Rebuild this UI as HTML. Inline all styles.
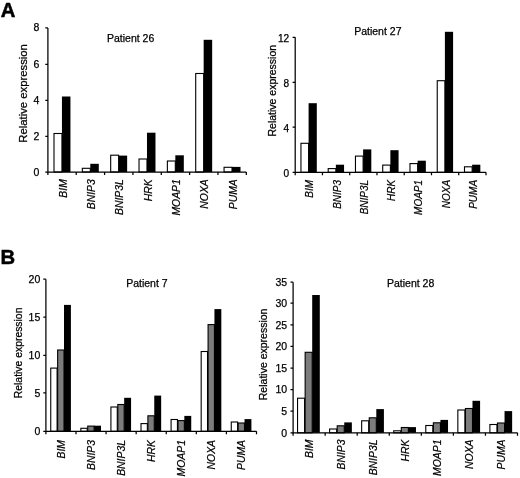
<!DOCTYPE html>
<html><head><meta charset="utf-8"><title>Figure</title>
<style>
html,body{margin:0;padding:0;background:#fff;}
svg{display:block;font-family:"Liberation Sans", Arial, sans-serif;}
.t{fill:#000;stroke:#000;stroke-width:0.25px;}
.tk{fill:#000;text-anchor:end;stroke:#000;stroke-width:0.25px;}
.yl{fill:#000;text-anchor:middle;stroke:#000;stroke-width:0.25px;}
.xl{fill:#000;font-style:italic;text-anchor:end;stroke:#000;stroke-width:0.2px;}
.pl{font-size:19.3px;font-weight:bold;fill:#000;stroke:#000;stroke-width:0.5px;}
</style></head><body>
<svg width="520" height="478" viewBox="0 0 520 478">
<rect x="0" y="0" width="520" height="478" fill="#fff"/>
<text class="pl" transform="translate(0.7,16.6) scale(1.05,1)">A</text>
<text class="pl" transform="translate(0.4,263.6) scale(1.05,1)">B</text>

<g>
<text class="t" font-size="10.5" x="107" y="42.4">Patient 26</text>
<text class="yl" font-size="11.3" transform="translate(27.4,93.4) rotate(-90)">Relative expression</text>
<rect x="54.00" y="133.50" width="7.95" height="38.50" fill="#fff" stroke="#000" stroke-width="1.1"/>
<rect x="61.95" y="96.50" width="8.50" height="75.50" fill="#000"/>
<rect x="82.34" y="168.30" width="7.95" height="3.70" fill="#fff" stroke="#000" stroke-width="1.1"/>
<rect x="90.29" y="163.80" width="8.50" height="8.20" fill="#000"/>
<rect x="110.69" y="155.20" width="7.95" height="16.80" fill="#fff" stroke="#000" stroke-width="1.1"/>
<rect x="118.64" y="155.60" width="8.50" height="16.40" fill="#000"/>
<rect x="139.03" y="159.00" width="7.95" height="13.00" fill="#fff" stroke="#000" stroke-width="1.1"/>
<rect x="146.98" y="132.70" width="8.50" height="39.30" fill="#000"/>
<rect x="167.37" y="161.00" width="7.95" height="11.00" fill="#fff" stroke="#000" stroke-width="1.1"/>
<rect x="175.32" y="155.30" width="8.50" height="16.70" fill="#000"/>
<rect x="195.71" y="73.50" width="7.95" height="98.50" fill="#fff" stroke="#000" stroke-width="1.1"/>
<rect x="203.66" y="39.80" width="8.50" height="132.20" fill="#000"/>
<rect x="224.06" y="167.30" width="7.95" height="4.70" fill="#fff" stroke="#000" stroke-width="1.1"/>
<rect x="232.01" y="166.90" width="8.50" height="5.10" fill="#000"/>
<path d="M47.90 27.90V172.00H246.30" fill="none" stroke="#000" stroke-width="1.25"/>
<text class="tk" font-size="10.5" x="39.30" y="175.50">0</text>
<text class="tk" font-size="10.5" x="39.30" y="139.80">2</text>
<text class="tk" font-size="10.5" x="39.30" y="103.80">4</text>
<text class="tk" font-size="10.5" x="39.30" y="67.80">6</text>
<text class="tk" font-size="10.5" x="39.30" y="31.40">8</text>
<path d="M45.30 172.00H47.90M45.30 136.30H47.90M45.30 100.30H47.90M45.30 64.30H47.90M45.30 27.90H47.90M76.24 172.00V175.00M104.59 172.00V175.00M132.93 172.00V175.00M161.27 172.00V175.00M189.61 172.00V175.00M217.96 172.00V175.00M246.30 172.00V175.00M47.90 172.00V175.00" fill="none" stroke="#000" stroke-width="1.25"/>
<text class="xl" font-size="10.4" transform="translate(66.67,179.20) rotate(-90)">BIM</text>
<text class="xl" font-size="10.4" transform="translate(95.01,179.20) rotate(-90)">BNIP3</text>
<text class="xl" font-size="10.4" transform="translate(123.36,179.20) rotate(-90)">BNIP3L</text>
<text class="xl" font-size="10.4" transform="translate(151.70,179.20) rotate(-90)">HRK</text>
<text class="xl" font-size="10.4" transform="translate(180.04,179.20) rotate(-90)">MOAP1</text>
<text class="xl" font-size="10.4" transform="translate(208.39,179.20) rotate(-90)">NOXA</text>
<text class="xl" font-size="10.4" transform="translate(236.73,179.20) rotate(-90)">PUMA</text>
</g>
<g>
<text class="t" font-size="10.5" x="354.2" y="35.2">Patient 27</text>
<text class="yl" font-size="10.5" transform="translate(275.7,90.7) rotate(-90)">Relative expression</text>
<rect x="300.95" y="143.30" width="7.65" height="29.00" fill="#fff" stroke="#000" stroke-width="1.1"/>
<rect x="308.60" y="103.20" width="8.20" height="69.10" fill="#000"/>
<rect x="328.21" y="168.60" width="7.65" height="3.70" fill="#fff" stroke="#000" stroke-width="1.1"/>
<rect x="335.86" y="164.70" width="8.20" height="7.60" fill="#000"/>
<rect x="355.46" y="156.10" width="7.65" height="16.20" fill="#fff" stroke="#000" stroke-width="1.1"/>
<rect x="363.11" y="149.40" width="8.20" height="22.90" fill="#000"/>
<rect x="382.72" y="165.10" width="7.65" height="7.20" fill="#fff" stroke="#000" stroke-width="1.1"/>
<rect x="390.37" y="150.20" width="8.20" height="22.10" fill="#000"/>
<rect x="409.98" y="163.60" width="7.65" height="8.70" fill="#fff" stroke="#000" stroke-width="1.1"/>
<rect x="417.63" y="160.70" width="8.20" height="11.60" fill="#000"/>
<rect x="437.24" y="80.70" width="7.65" height="91.60" fill="#fff" stroke="#000" stroke-width="1.1"/>
<rect x="444.89" y="31.80" width="8.20" height="140.50" fill="#000"/>
<rect x="464.49" y="166.80" width="7.65" height="5.50" fill="#fff" stroke="#000" stroke-width="1.1"/>
<rect x="472.14" y="164.70" width="8.20" height="7.60" fill="#000"/>
<path d="M295.20 37.30V172.30H486.00" fill="none" stroke="#000" stroke-width="1.25"/>
<text class="tk" font-size="10.1" x="289.20" y="176.85">0</text>
<text class="tk" font-size="10.1" x="289.20" y="131.65">4</text>
<text class="tk" font-size="10.1" x="289.20" y="86.85">8</text>
<text class="tk" font-size="10.1" x="289.20" y="41.85">12</text>
<path d="M292.60 172.30H295.20M292.60 127.10H295.20M292.60 82.30H295.20M292.60 37.30H295.20M322.46 172.30V175.30M349.71 172.30V175.30M376.97 172.30V175.30M404.23 172.30V175.30M431.49 172.30V175.30M458.74 172.30V175.30M486.00 172.30V175.30M295.20 172.30V175.30" fill="none" stroke="#000" stroke-width="1.25"/>
<text class="xl" font-size="10.0" transform="translate(313.43,179.90) rotate(-90)">BIM</text>
<text class="xl" font-size="10.0" transform="translate(340.69,179.90) rotate(-90)">BNIP3</text>
<text class="xl" font-size="10.0" transform="translate(367.94,179.90) rotate(-90)">BNIP3L</text>
<text class="xl" font-size="10.0" transform="translate(395.20,179.90) rotate(-90)">HRK</text>
<text class="xl" font-size="10.0" transform="translate(422.46,179.90) rotate(-90)">MOAP1</text>
<text class="xl" font-size="10.0" transform="translate(449.71,179.90) rotate(-90)">NOXA</text>
<text class="xl" font-size="10.0" transform="translate(476.97,179.90) rotate(-90)">PUMA</text>
</g>
<g>
<text class="t" font-size="10.5" x="126.2" y="287.4">Patient 7</text>
<text class="yl" font-size="10.4" transform="translate(22,352.9) rotate(-90)">Relative expression</text>
<rect x="50.75" y="368.10" width="6.35" height="63.20" fill="#fff" stroke="#000" stroke-width="1.1"/>
<rect x="57.65" y="350.00" width="6.35" height="81.30" fill="#7c7c7c" stroke="#000" stroke-width="1.1"/>
<rect x="64.00" y="304.90" width="6.90" height="126.40" fill="#000"/>
<rect x="80.84" y="428.30" width="6.35" height="3.00" fill="#fff" stroke="#000" stroke-width="1.1"/>
<rect x="87.74" y="426.10" width="6.35" height="5.20" fill="#7c7c7c" stroke="#000" stroke-width="1.1"/>
<rect x="94.09" y="425.70" width="6.90" height="5.60" fill="#000"/>
<rect x="110.92" y="407.00" width="6.35" height="24.30" fill="#fff" stroke="#000" stroke-width="1.1"/>
<rect x="117.82" y="404.50" width="6.35" height="26.80" fill="#7c7c7c" stroke="#000" stroke-width="1.1"/>
<rect x="124.17" y="397.80" width="6.90" height="33.50" fill="#000"/>
<rect x="141.01" y="423.60" width="6.35" height="7.70" fill="#fff" stroke="#000" stroke-width="1.1"/>
<rect x="147.91" y="415.80" width="6.35" height="15.50" fill="#7c7c7c" stroke="#000" stroke-width="1.1"/>
<rect x="154.26" y="395.60" width="6.90" height="35.70" fill="#000"/>
<rect x="171.09" y="419.50" width="6.35" height="11.80" fill="#fff" stroke="#000" stroke-width="1.1"/>
<rect x="177.99" y="420.60" width="6.35" height="10.70" fill="#7c7c7c" stroke="#000" stroke-width="1.1"/>
<rect x="184.34" y="415.90" width="6.90" height="15.40" fill="#000"/>
<rect x="201.18" y="351.50" width="6.35" height="79.80" fill="#fff" stroke="#000" stroke-width="1.1"/>
<rect x="208.08" y="324.60" width="6.35" height="106.70" fill="#7c7c7c" stroke="#000" stroke-width="1.1"/>
<rect x="214.43" y="309.10" width="6.90" height="122.20" fill="#000"/>
<rect x="231.26" y="422.00" width="6.35" height="9.30" fill="#fff" stroke="#000" stroke-width="1.1"/>
<rect x="238.16" y="423.00" width="6.35" height="8.30" fill="#7c7c7c" stroke="#000" stroke-width="1.1"/>
<rect x="244.51" y="419.10" width="6.90" height="12.20" fill="#000"/>
<path d="M45.90 279.20V431.30H256.50" fill="none" stroke="#000" stroke-width="1.25"/>
<text class="tk" font-size="10.5" x="40.30" y="435.05">0</text>
<text class="tk" font-size="10.5" x="40.30" y="396.65">5</text>
<text class="tk" font-size="10.5" x="40.30" y="359.05">10</text>
<text class="tk" font-size="10.5" x="40.30" y="320.85">15</text>
<text class="tk" font-size="10.5" x="40.30" y="282.95">20</text>
<path d="M43.30 431.30H45.90M43.30 392.90H45.90M43.30 355.30H45.90M43.30 317.10H45.90M43.30 279.20H45.90M75.99 431.30V434.30M106.07 431.30V434.30M136.16 431.30V434.30M166.24 431.30V434.30M196.33 431.30V434.30M226.41 431.30V434.30M256.50 431.30V434.30M45.90 431.30V434.30" fill="none" stroke="#000" stroke-width="1.25"/>
<text class="xl" font-size="10.4" transform="translate(64.54,440.00) rotate(-90)">BIM</text>
<text class="xl" font-size="10.4" transform="translate(94.63,440.00) rotate(-90)">BNIP3</text>
<text class="xl" font-size="10.4" transform="translate(124.71,440.00) rotate(-90)">BNIP3L</text>
<text class="xl" font-size="10.4" transform="translate(154.80,440.00) rotate(-90)">HRK</text>
<text class="xl" font-size="10.4" transform="translate(184.89,440.00) rotate(-90)">MOAP1</text>
<text class="xl" font-size="10.4" transform="translate(214.97,440.00) rotate(-90)">NOXA</text>
<text class="xl" font-size="10.4" transform="translate(245.06,440.00) rotate(-90)">PUMA</text>
</g>
<g>
<text class="t" font-size="10.5" x="387" y="286.7">Patient 28</text>
<text class="yl" font-size="10.5" transform="translate(266.5,354.4) rotate(-90)">Relative expression</text>
<rect x="297.55" y="398.20" width="7.05" height="34.60" fill="#fff" stroke="#000" stroke-width="1.1"/>
<rect x="305.15" y="352.30" width="7.05" height="80.50" fill="#7c7c7c" stroke="#000" stroke-width="1.1"/>
<rect x="312.20" y="295.00" width="7.60" height="137.80" fill="#000"/>
<rect x="329.61" y="429.00" width="7.05" height="3.80" fill="#fff" stroke="#000" stroke-width="1.1"/>
<rect x="337.21" y="425.80" width="7.05" height="7.00" fill="#7c7c7c" stroke="#000" stroke-width="1.1"/>
<rect x="344.26" y="422.40" width="7.60" height="10.40" fill="#000"/>
<rect x="361.66" y="420.80" width="7.05" height="12.00" fill="#fff" stroke="#000" stroke-width="1.1"/>
<rect x="369.26" y="417.80" width="7.05" height="15.00" fill="#7c7c7c" stroke="#000" stroke-width="1.1"/>
<rect x="376.31" y="409.10" width="7.60" height="23.70" fill="#000"/>
<rect x="393.72" y="430.80" width="7.05" height="2.00" fill="#fff" stroke="#000" stroke-width="1.1"/>
<rect x="401.32" y="427.50" width="7.05" height="5.30" fill="#7c7c7c" stroke="#000" stroke-width="1.1"/>
<rect x="408.37" y="427.10" width="7.60" height="5.70" fill="#000"/>
<rect x="425.78" y="425.50" width="7.05" height="7.30" fill="#fff" stroke="#000" stroke-width="1.1"/>
<rect x="433.38" y="422.80" width="7.05" height="10.00" fill="#7c7c7c" stroke="#000" stroke-width="1.1"/>
<rect x="440.43" y="419.90" width="7.60" height="12.90" fill="#000"/>
<rect x="457.84" y="410.00" width="7.05" height="22.80" fill="#fff" stroke="#000" stroke-width="1.1"/>
<rect x="465.44" y="408.50" width="7.05" height="24.30" fill="#7c7c7c" stroke="#000" stroke-width="1.1"/>
<rect x="472.49" y="400.80" width="7.60" height="32.00" fill="#000"/>
<rect x="489.89" y="424.50" width="7.05" height="8.30" fill="#fff" stroke="#000" stroke-width="1.1"/>
<rect x="497.49" y="423.00" width="7.05" height="9.80" fill="#7c7c7c" stroke="#000" stroke-width="1.1"/>
<rect x="504.54" y="411.10" width="7.60" height="21.70" fill="#000"/>
<path d="M293.10 282.20V432.80H517.50" fill="none" stroke="#000" stroke-width="1.25"/>
<text class="tk" font-size="10.5" x="287.10" y="436.55">0</text>
<text class="tk" font-size="10.5" x="287.10" y="414.95">5</text>
<text class="tk" font-size="10.5" x="287.10" y="393.35">10</text>
<text class="tk" font-size="10.5" x="287.10" y="371.85">15</text>
<text class="tk" font-size="10.5" x="287.10" y="350.15">20</text>
<text class="tk" font-size="10.5" x="287.10" y="328.55">25</text>
<text class="tk" font-size="10.5" x="287.10" y="306.95">30</text>
<text class="tk" font-size="10.5" x="287.10" y="285.95">35</text>
<path d="M290.50 432.80H293.10M290.50 411.20H293.10M290.50 389.60H293.10M290.50 368.10H293.10M290.50 346.40H293.10M290.50 324.80H293.10M290.50 303.20H293.10M290.50 282.20H293.10M325.16 432.80V435.80M357.21 432.80V435.80M389.27 432.80V435.80M421.33 432.80V435.80M453.39 432.80V435.80M485.44 432.80V435.80M517.50 432.80V435.80M293.10 432.80V435.80" fill="none" stroke="#000" stroke-width="1.25"/>
<text class="xl" font-size="10.4" transform="translate(312.63,439.50) rotate(-90)">BIM</text>
<text class="xl" font-size="10.4" transform="translate(344.69,439.50) rotate(-90)">BNIP3</text>
<text class="xl" font-size="10.4" transform="translate(376.74,439.50) rotate(-90)">BNIP3L</text>
<text class="xl" font-size="10.4" transform="translate(408.80,439.50) rotate(-90)">HRK</text>
<text class="xl" font-size="10.4" transform="translate(440.86,439.50) rotate(-90)">MOAP1</text>
<text class="xl" font-size="10.4" transform="translate(472.91,439.50) rotate(-90)">NOXA</text>
<text class="xl" font-size="10.4" transform="translate(504.97,439.50) rotate(-90)">PUMA</text>
</g>
</svg></body></html>
